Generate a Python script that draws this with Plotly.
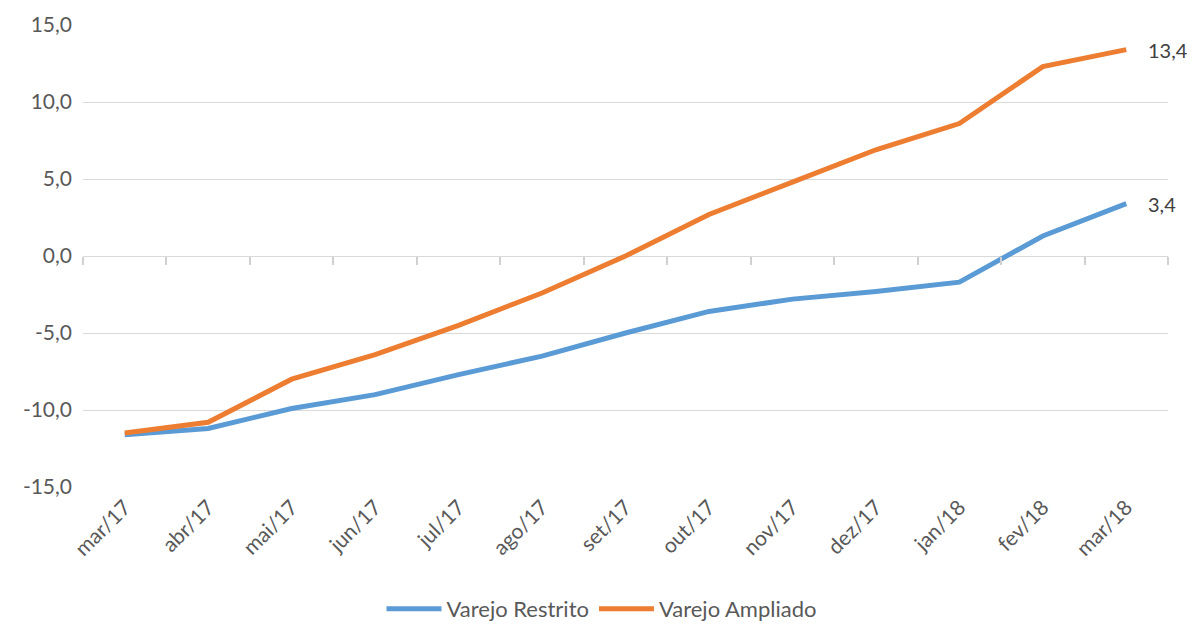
import plotly.graph_objects as go

categories = ["mar/17", "abr/17", "mai/17", "jun/17", "jul/17", "ago/17", "set/17",
              "out/17", "nov/17", "dez/17", "jan/18", "fev/18", "mar/18"]
restrito = [-11.6, -11.2, -9.9, -9.0, -7.7, -6.5, -5.0, -3.6, -2.8, -2.3, -1.7, 1.3, 3.4]
ampliado = [-11.5, -10.8, -8.0, -6.4, -4.5, -2.4, 0.0, 2.7, 4.8, 6.9, 8.6, 12.3, 13.4]
y_ticks = [-15, -10, -5, 0, 5, 10, 15]
y_ticktext = ["-15,0", "-10,0", "-5,0", "0,0", "5,0", "10,0", "15,0"]

FONT = "Lato, 'Open Sans', sans-serif"
TXT = "#595959"

fig = go.Figure()
fig.add_trace(go.Scatter(
    x=categories, y=restrito, name="Varejo Restrito", mode="lines",
    line=dict(color="#5B9BD5", width=5)))
fig.add_trace(go.Scatter(
    x=categories, y=ampliado, name="Varejo Ampliado", mode="lines",
    line=dict(color="#ED7D31", width=5)))
# invisible trace to carry the tick-mark axis at y=0
fig.add_trace(go.Scatter(x=list(range(len(categories))), y=[0] * len(categories),
                         xaxis="x2", mode="lines", line=dict(width=0),
                         showlegend=False, hoverinfo="skip"))

for vals in (restrito, ampliado):
    fig.add_annotation(x=categories[-1], y=vals[-1], xref="x", yref="y",
                       text=f"{vals[-1]:.1f}".replace(".", ","), showarrow=False,
                       xanchor="left", yanchor="middle", xshift=20,
                       font=dict(size=20, color="#404040", family=FONT))

fig.update_layout(
    width=1187, height=617,
    margin=dict(l=75, r=27, t=17, b=138),
    plot_bgcolor="white", paper_bgcolor="white",
    font=dict(family=FONT, color=TXT, size=21),
    xaxis=dict(type="category", categoryarray=categories, range=[-0.5, 12.5],
               showgrid=False, showline=False, ticks="", tickangle=-45,
               tickfont=dict(size=21, color=TXT), zeroline=False,
               automargin=False, ticklabelstandoff=3),
    xaxis2=dict(overlaying="x", anchor="free", position=0.5, range=[-0.5, 12.5],
                tickmode="array", tickvals=[i - 0.5 for i in range(len(categories) + 1)],
                ticks="outside", ticklen=8, tickcolor="#d0d0d0", tickwidth=1.5,
                showticklabels=False, showgrid=False, showline=False, zeroline=False,
                automargin=False),
    yaxis=dict(range=[-15, 15], tickvals=y_ticks, ticktext=y_ticktext,
               showgrid=True, gridcolor="#d9d9d9", gridwidth=1.3,
               zeroline=False, showline=False, ticks="",
               tickfont=dict(size=21, color=TXT), ticklabelstandoff=10,
               automargin=False),
    legend=dict(orientation="h", x=0.5, xanchor="center", xref="container",
                y=0.026, yanchor="middle", yref="container",
                font=dict(size=22, color=TXT), itemwidth=55),
    showlegend=True,
)

fig.write_html("out.html")
